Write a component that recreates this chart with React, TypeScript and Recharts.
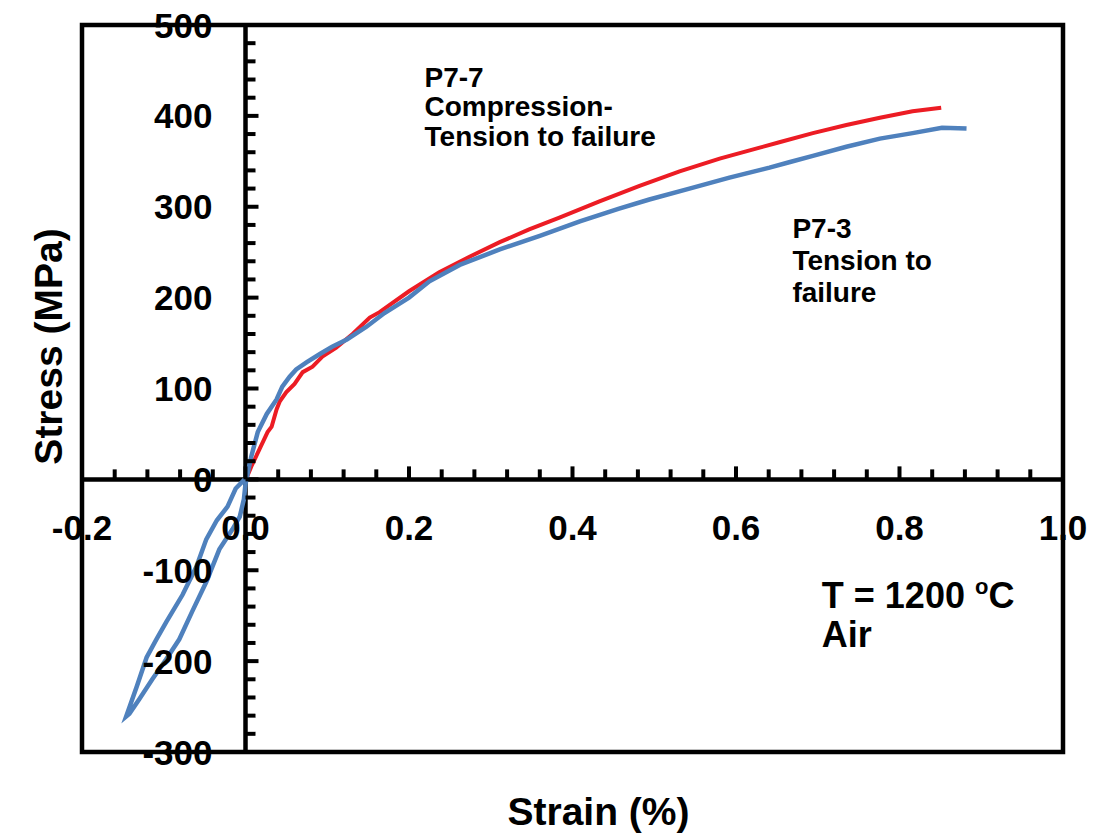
import React from 'react';
import {
  ComposedChart,
  Line,
  XAxis,
  YAxis,
  ReferenceLine,
  ReferenceArea,
  ReferenceDot,
} from 'recharts';

// P7-7 Compression-Tension to failure (red)
const redStrain = [
  0.0, 0.002, 0.007, 0.017, 0.027, 0.032, 0.038, 0.042, 0.05, 0.06, 0.07, 0.082, 0.094, 0.111,
  0.131, 0.152, 0.164, 0.2, 0.237, 0.274, 0.311, 0.347, 0.384, 0.433, 0.482, 0.531, 0.58, 0.629,
  0.653, 0.694, 0.735, 0.776, 0.816, 0.851,
];
const redStress = [
  0, 3, 14, 33, 52, 58, 77, 86, 96, 105, 118, 124, 135, 145, 160, 178, 184, 207, 228, 245, 261,
  275, 288, 306, 323, 339, 353, 365, 371, 381, 390, 398, 405, 409,
];

// P7-3 (blue): compression loop then tension to failure
const blueStrain = [
  -0.001, -0.012, -0.022, -0.035, -0.048, -0.06, -0.077, -0.097, -0.109, -0.121, -0.133, -0.146,
  -0.142, -0.13, -0.114, -0.097, -0.081, -0.065, -0.048, -0.032, -0.016, -0.007, -0.002, 0.0,
  0.007, 0.015, 0.026, 0.038, 0.045, 0.054, 0.062, 0.075, 0.091, 0.106, 0.124, 0.148, 0.17, 0.2,
  0.225, 0.262, 0.311, 0.36, 0.409, 0.457, 0.494, 0.543, 0.592, 0.641, 0.665, 0.694, 0.735, 0.776,
  0.816, 0.852, 0.882,
];
const blueStress = [
  0, -10, -30, -45, -66, -96, -127, -157, -176, -196, -228, -261,
  -258, -242, -220, -198, -176, -145, -113, -77, -55, -41, -22, -5,
  25, 52, 72, 88, 102, 113, 121, 129, 138, 146, 154, 168, 183, 200,
  218, 236, 253, 268, 284, 298, 308, 320, 332, 343, 349, 356, 366, 375,
  381, 387, 386,
];

const xLabelValues = [-0.2, 0, 0.2, 0.4, 0.6, 0.8, 1.0];
const xLabelTexts = ['-0.2', '0.0', '0.2', '0.4', '0.6', '0.8', '1.0'];
const xMinorTicks = [
  -0.16, -0.12, -0.08, -0.04, 0.04, 0.08, 0.12, 0.16, 0.24, 0.28, 0.32, 0.36, 0.44, 0.48, 0.52,
  0.56, 0.64, 0.68, 0.72, 0.76, 0.84, 0.88, 0.92, 0.96,
];
const yLabelValues = [-300, -200, -100, 0, 100, 200, 300, 400, 500];
const yMinorTicks = [
  -280, -260, -240, -220, -180, -160, -140, -120, -80, -60, -40, -20, 20, 40, 60, 80, 120, 140,
  160, 180, 220, 240, 260, 280, 320, 340, 360, 380, 420, 440, 460, 480,
];

const noteP77 = ['P7-7', 'Compression-', 'Tension to failure'];
const noteP77At = { x: 0.219, y: 432 };
const noteP73 = ['P7-3', 'Tension to', 'failure'];
const noteP73At = { x: 0.669, y: 266 };
const noteTemp = { x: 0.705, y: -141 };

const redData = redStrain.map((x, i) => ({ x, y: redStress[i] }));
const blueData = blueStrain.map((x, i) => ({ x, y: blueStress[i] }));

const FONT = '"Liberation Sans", Arial, sans-serif';
const RED = '#ec1c24';
const BLUE = '#4f81bd';

const xTickShape = (major: boolean, label?: string) => (p: any) => (
  <g>
    <line x1={p.cx} x2={p.cx} y1={p.cy} y2={p.cy - (major ? 13 : 10)} stroke="#000" strokeWidth={4} />
    {label !== undefined && (
      <text x={p.cx} y={p.cy + 61} textAnchor="middle" fontFamily={FONT} fontWeight="bold" fontSize={35} fill="#000">
        {label}
      </text>
    )}
  </g>
);

const yTickShape = (major: boolean, label?: string) => (p: any) => (
  <g>
    <line x1={p.cx} x2={p.cx + (major ? 13 : 10)} y1={p.cy} y2={p.cy} stroke="#000" strokeWidth={4} />
    {label !== undefined && (
      <text x={p.cx - 33} y={p.cy + 12.5} textAnchor="end" fontFamily={FONT} fontWeight="bold" fontSize={35} fill="#000">
        {label}
      </text>
    )}
  </g>
);

const noteShape = (lines: string[], lineH: number) => (p: any) => (
  <text x={p.cx} y={p.cy} fontFamily={FONT} fontWeight="bold" fontSize={28} fill="#000">
    {lines.map((l, i) => (
      <tspan key={i} x={p.cx} y={p.cy + i * lineH}>
        {l}
      </tspan>
    ))}
  </text>
);

const tempShape = (p: any) => (
  <text x={p.cx} y={p.cy} fontFamily={FONT} fontWeight="bold" fontSize={36} fill="#000">
    <tspan x={p.cx} y={p.cy}>
      T = 1200 <tspan fontSize={22} dy={-14}>o</tspan>
      <tspan dy={14}>C</tspan>
    </tspan>
    <tspan x={p.cx} y={p.cy + 39}>Air</tspan>
  </text>
);

const XTitle = (props: any) => {
  const vb = props.viewBox || { x: 0, y: 0, width: 0, height: 0 };
  return (
    <text x={vb.x + vb.width / 2 + 26} y={vb.y + 73} textAnchor="middle" fontFamily={FONT} fontWeight="bold" fontSize={39} fill="#000">
      Strain (%)
    </text>
  );
};

const YTitle = (props: any) => {
  const vb = props.viewBox || { x: 0, y: 0, width: 0, height: 0 };
  const cx = vb.x + 54;
  const cy = vb.y + vb.height / 2 - 42;
  return (
    <text x={cx} y={cy} transform={`rotate(-90 ${cx} ${cy})`} textAnchor="middle" fontFamily={FONT} fontWeight="bold" fontSize={39} fill="#000">
      Stress (MPa)
    </text>
  );
};

export default function App() {
  return (
    <div style={{ width: 1090, height: 827, background: '#fff' }}>
      <ComposedChart width={1090} height={827} margin={{ top: 17, right: 35, bottom: 0, left: 0 }}>
        <XAxis
          type="number"
          dataKey="x"
          domain={[-0.2, 1.0]}
          allowDataOverflow
          height={83}
          axisLine={false}
          tickLine={false}
          tick={false}
          label={<XTitle />}
        />
        <YAxis
          type="number"
          dataKey="y"
          domain={[-300, 500]}
          allowDataOverflow
          width={74}
          axisLine={false}
          tickLine={false}
          tick={false}
          label={<YTitle />}
        />
        <ReferenceArea x1={-0.2} x2={1.0} y1={-300} y2={500} fill="#fff" fillOpacity={0} stroke="#000" strokeWidth={4.5} ifOverflow="visible" />
        <ReferenceLine y={0} stroke="#000" strokeWidth={4.5} />
        <ReferenceLine x={0} stroke="#000" strokeWidth={4.5} />
        {xMinorTicks.map((v) => (
          <ReferenceDot key={`xm${v}`} x={v} y={0} r={0} ifOverflow="visible" shape={xTickShape(false)} />
        ))}
        {yMinorTicks.map((v) => (
          <ReferenceDot key={`ym${v}`} x={0} y={v} r={0} ifOverflow="visible" shape={yTickShape(false)} />
        ))}
        {xLabelValues.map((v, i) => (
          <ReferenceDot key={`xl${v}`} x={v} y={0} r={0} ifOverflow="visible" shape={xTickShape(true, xLabelTexts[i])} />
        ))}
        {yLabelValues.map((v) => (
          <ReferenceDot key={`yl${v}`} x={0} y={v} r={0} ifOverflow="visible" shape={yTickShape(true, String(v))} />
        ))}
        <Line data={redData} dataKey="y" type="linear" stroke={RED} strokeWidth={4} dot={false} isAnimationActive={false} />
        <Line data={blueData} dataKey="y" type="linear" stroke={BLUE} strokeWidth={4.5} dot={false} isAnimationActive={false} />
        <ReferenceDot x={noteP77At.x} y={noteP77At.y} r={0} ifOverflow="visible" shape={noteShape(noteP77, 29.5)} />
        <ReferenceDot x={noteP73At.x} y={noteP73At.y} r={0} ifOverflow="visible" shape={noteShape(noteP73, 32)} />
        <ReferenceDot x={noteTemp.x} y={noteTemp.y} r={0} ifOverflow="visible" shape={tempShape} />
      </ComposedChart>
    </div>
  );
}
